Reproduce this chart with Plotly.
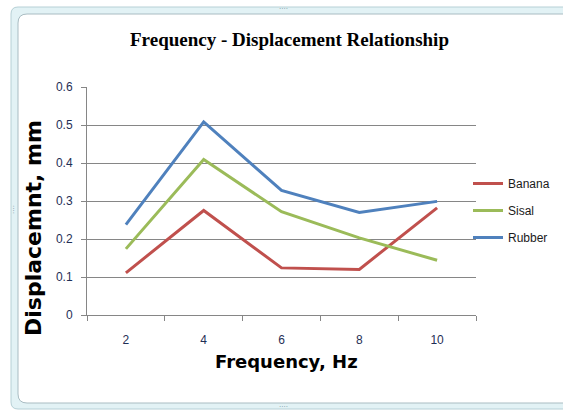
import plotly.graph_objects as go

frequency = ["2", "4", "6", "8", "10"]
banana = [0.111, 0.275, 0.124, 0.120, 0.282]
sisal = [0.174, 0.409, 0.272, 0.203, 0.144]
rubber = [0.238, 0.508, 0.328, 0.270, 0.299]
series = [("Banana", banana, "#C0504D"), ("Sisal", sisal, "#9BBB59"), ("Rubber", rubber, "#4F81BD")]

W, H = 563, 410
L, R, T, B = 87, 476, 87, 315


def px(x):
    return (x - L) / (R - L)


def py(y):
    return (B - y) / (B - T)


fig = go.Figure()
for i, (name, vals, col) in enumerate(series):
    fig.add_trace(go.Scatter(x=frequency, y=vals, name=name, mode="lines",
                             legendgroup=f"g{i}",
                             line=dict(color=col, width=3)))


def rounded(x0, y0, x1, y1, r):
    X0, X1 = px(x0), px(x1)
    Y0, Y1 = py(y0), py(y1)
    rx = r / (R - L)
    ry = r / (B - T)
    return (f"M {X0+rx},{Y0} L {X1-rx},{Y0} Q {X1},{Y0} {X1},{Y0-ry} "
            f"L {X1},{Y1+ry} Q {X1},{Y1} {X1-rx},{Y1} L {X0+rx},{Y1} "
            f"Q {X0},{Y1} {X0},{Y1+ry} L {X0},{Y0-ry} Q {X0},{Y0} {X0+rx},{Y0} Z")


shapes = [
    dict(type="path", xref="paper", yref="paper", layer="below",
         path=rounded(11, 7, 590, 409, 7), fillcolor="#E2F2F5",
         line=dict(color="#B6D0D6", width=1)),
    dict(type="path", xref="paper", yref="paper", layer="below",
         path=rounded(18, 14, 585, 403, 9), fillcolor="#FFFFFF",
         line=dict(color="#A9BCC2", width=1)),
]

annotations = [
    dict(text="Frequency - Displacement Relationship", xref="paper", yref="paper",
         x=px(289), y=py(40), showarrow=False, xanchor="center", yanchor="middle",
         font=dict(family="Liberation Serif", size=19, color="#000000", weight="bold")),
    dict(text="Displacemnt, mm", xref="paper", yref="paper", textangle=-90,
         x=px(33), y=py(228), showarrow=False, xanchor="center", yanchor="middle",
         font=dict(family="DejaVu Sans", size=22, color="#000000", weight="bold")),
    dict(text="Frequency, Hz", xref="paper", yref="paper",
         x=px(286), y=py(361), showarrow=False, xanchor="center", yanchor="middle",
         font=dict(family="DejaVu Sans", size=18, color="#000000", weight="bold")),
    dict(text="····", xref="paper", yref="paper", x=px(283), y=py(9),
         showarrow=False, xanchor="center", yanchor="middle",
         font=dict(family="DejaVu Sans", size=7, color="#7A9AA4")),
    dict(text="····", xref="paper", yref="paper", x=px(283), y=py(407),
         showarrow=False, xanchor="center", yanchor="middle",
         font=dict(family="DejaVu Sans", size=7, color="#7A9AA4")),
    dict(text="····", xref="paper", yref="paper", x=px(14), y=py(210), textangle=-90,
         showarrow=False, xanchor="center", yanchor="middle",
         font=dict(family="DejaVu Sans", size=7, color="#7A9AA4")),
]

fig.update_layout(
    width=W, height=H,
    margin=dict(l=L, r=W - R, t=T, b=H - B, pad=0, autoexpand=False),
    paper_bgcolor="#FFFFFF", plot_bgcolor="rgba(0,0,0,0)",
    shapes=shapes, annotations=annotations,
    showlegend=True,
    legend=dict(x=px(468), y=py(169), xanchor="left", yanchor="top",
                font=dict(family="Liberation Sans", size=12, color="#1A1A1A"),
                bgcolor="rgba(0,0,0,0)", tracegroupgap=8),
    xaxis=dict(type="category", categoryorder="array", categoryarray=frequency,
               range=[-0.5, len(frequency) - 0.5], automargin=False,
               showline=True, linecolor="#868686", linewidth=1,
               ticks="outside", ticklen=5, tickcolor="#868686", tickson="boundaries",
               showgrid=False, ticklabelstandoff=14,
               tickfont=dict(family="Liberation Sans", size=12, color="#1F2F55")),
    yaxis=dict(range=[0, 0.6], dtick=0.1, tick0=0, automargin=False,
               showline=True, linecolor="#868686", linewidth=1,
               ticks="outside", ticklen=5, tickcolor="#868686",
               showgrid=True, gridcolor="#868686", gridwidth=1, zeroline=False,
               ticklabelstandoff=6,
               tickfont=dict(family="Liberation Sans", size=12, color="#1F2F55")),
)

fig.write_html("out.html")
